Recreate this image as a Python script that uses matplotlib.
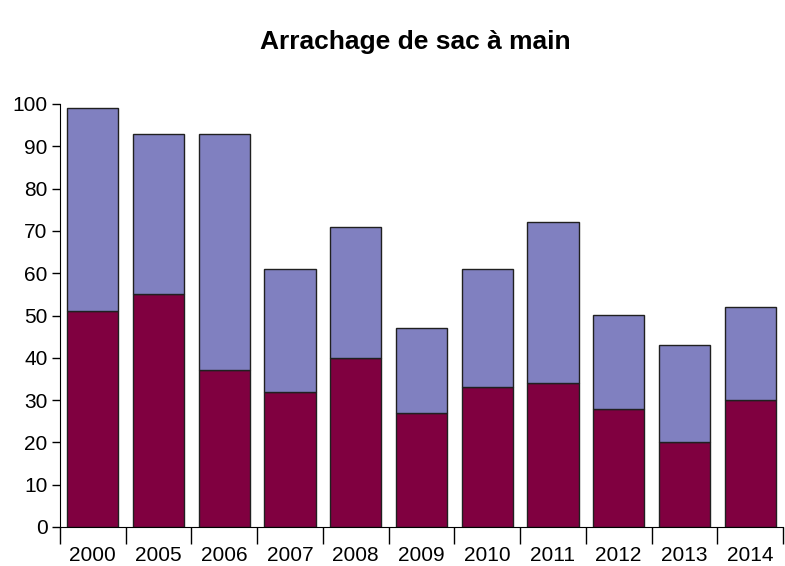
import numpy as np
import matplotlib
matplotlib.use('Agg')
import matplotlib.pyplot as plt

years = ['2000', '2005', '2006', '2007', '2008', '2009', '2010', '2011', '2012', '2013', '2014']
bottom_vals = [51, 55, 37, 32, 40, 27, 33, 34, 28, 20, 30]
totals = [99, 93, 93, 61, 71, 47, 61, 72, 50, 43, 52]
top_vals = [t - b for t, b in zip(totals, bottom_vals)]

plt.rcParams['font.family'] = ['Liberation Sans', 'DejaVu Sans']

fig = plt.figure(figsize=(7.85, 5.66), dpi=100)
ax = fig.add_axes([60/785, 1 - 527/566, 723/785, 423/566])

x = np.arange(len(years))
ax.bar(x, bottom_vals, width=0.78, color='#800040', edgecolor='#202020', linewidth=1)
ax.bar(x, top_vals, bottom=bottom_vals, width=0.78, color='#8080c0',
       edgecolor='#202020', linewidth=1)

ax.set_xlim(-0.5, len(years) - 0.5)
ax.set_ylim(0, 100)
ax.spines['top'].set_visible(False)
ax.spines['right'].set_visible(False)

ax.set_yticks(range(0, 101, 10))
ax.tick_params(axis='y', direction='out', length=6, width=1, pad=3, labelsize=15)

ax.set_xticks(x)
ax.set_xticklabels(years)
ax.set_xticks(np.arange(-0.5, len(years), 1), minor=True)
ax.tick_params(axis='x', which='major', length=0, pad=14, labelsize=15)
ax.tick_params(axis='x', which='minor', direction='out', length=12, width=1)

fig.text(415/785, 1 - 42/566, 'Arrachage de sac à main', ha='center', va='center',
         fontsize=19, fontweight='bold')

fig.savefig('out.png', dpi=100)
